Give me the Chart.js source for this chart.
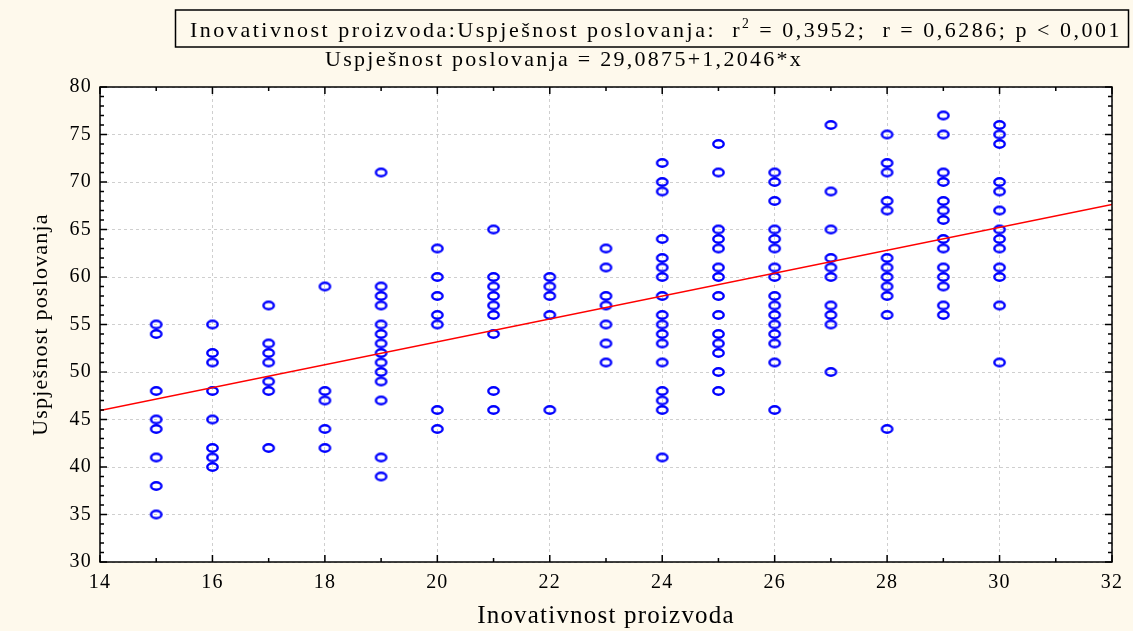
<!DOCTYPE html>
<html lang="hr">
<head>
<meta charset="UTF-8">
<title>Inovativnost proizvoda : Uspješnost poslovanja</title>
<script src="https://cdn.jsdelivr.net/npm/chart.js"></script>
<style>
    body {
        margin: 0;
        background: #fef9ec;
    }
    .wrap {
        width: 1133px;
        height: 631px;
    }
</style>
</head>
<body>
<div class="wrap"><canvas id="scatter"></canvas></div>
<script>
    // values, one list of y values per x level
    const inovativnost = [15, 16, 17, 18, 19, 20, 21, 22, 23, 24, 25, 26, 27, 28, 29, 30];
    const uspjesnost = [
        [55, 54, 48, 45, 44, 41, 38, 35],
        [55, 52, 51, 48, 45, 42, 41, 40],
        [57, 53, 52, 51, 49, 48, 42],
        [59, 48, 47, 44, 42],
        [71, 59, 58, 57, 55, 54, 53, 52, 51, 50, 49, 47, 41, 39],
        [63, 60, 58, 56, 55, 46, 44],
        [65, 60, 59, 58, 57, 56, 54, 48, 46],
        [60, 59, 58, 56, 46],
        [63, 61, 58, 57, 55, 53, 51],
        [72, 70, 69, 64, 62, 61, 60, 58, 56, 55, 54, 53, 51, 48, 47, 46, 41],
        [74, 71, 65, 64, 63, 61, 60, 58, 56, 54, 53, 52, 50, 48],
        [71, 70, 68, 65, 64, 63, 61, 60, 58, 57, 56, 55, 54, 53, 51, 46],
        [76, 69, 65, 62, 61, 60, 57, 56, 55, 50],
        [75, 72, 71, 68, 67, 62, 61, 60, 59, 58, 56, 44],
        [77, 75, 71, 70, 68, 67, 66, 64, 63, 61, 60, 59, 57, 56],
        [76, 75, 74, 70, 69, 67, 65, 64, 63, 61, 60, 57, 51]
    ];
    const xMin = 14, xMax = 32, xStep = 2;
    const yMin = 30, yMax = 80, yStep = 5;
    const intercept = 29.0875, slope = 1.2046;

    const headerText = ['Inovativnost proizvoda:Uspješnost poslovanja:  r', '2', ' = 0,3952;  r = 0,6286; p < 0,001'];
    const equationText = 'Uspješnost poslovanja = 29,0875+1,2046*x';
    const xTitle = 'Inovativnost proizvoda';
    const yTitle = 'Uspješnost poslovanja';

    const points = [];
    inovativnost.forEach((x, i) => {
        uspjesnost[i].forEach(y => points.push({ x: x, y: y }));
    });
    const fitLine = [xMin, xMax].map(x => ({ x: x, y: intercept + slope * x }));

    // hollow oval marker like the original
    const marker = document.createElement('canvas');
    marker.width = 15;
    marker.height = 12;
    const mctx = marker.getContext('2d');
    mctx.strokeStyle = '#0000ff';
    mctx.lineWidth = 2.4;
    mctx.beginPath();
    mctx.ellipse(7.5, 6, 5.2, 3.7, 0, 0, Math.PI * 2);
    mctx.stroke();

    const serif = 'Liberation Serif, Times New Roman, serif';

    // draws text spread out with letter spacing so it fills a given width
    function spreadText(ctx, parts, left, baseline, width, size) {
        ctx.save();
        ctx.letterSpacing = '0px';
        let natural = 0, chars = 0;
        parts.forEach(p => {
            ctx.font = (p.sup ? size * 0.62 : size) + 'px ' + serif;
            natural += ctx.measureText(p.text).width;
            chars += p.text.length;
        });
        const gap = Math.max(0, (width - natural) / chars);
        ctx.letterSpacing = gap + 'px';
        let x = left;
        parts.forEach(p => {
            ctx.font = (p.sup ? size * 0.62 : size) + 'px ' + serif;
            ctx.fillText(p.text, x, p.sup ? baseline - size * 0.42 : baseline);
            x += ctx.measureText(p.text).width;
        });
        ctx.restore();
    }

    const decor = {
        id: 'decor',
        beforeDraw(chart) {
            const ctx = chart.ctx, a = chart.chartArea;
            ctx.fillStyle = '#fef9ec';
            ctx.fillRect(0, 0, chart.width, chart.height);
            ctx.fillStyle = '#ffffff';
            ctx.fillRect(a.left, a.top, a.right - a.left, a.bottom - a.top);
            // the original uses slightly spaced type
            ctx.letterSpacing = '1.2px';
        },
        afterDraw(chart) {
            const ctx = chart.ctx, a = chart.chartArea;
            const sx = chart.scales.x, sy = chart.scales.y;
            ctx.save();
            ctx.strokeStyle = '#000';
            ctx.lineWidth = 1.5;
            ctx.strokeRect(a.left, a.top, a.right - a.left, a.bottom - a.top);

            // inward ticks on all four sides
            ctx.beginPath();
            for (let v = xMin; v <= xMax; v++) {
                const px = sx.getPixelForValue(v);
                const len = v % xStep === 0 ? 7 : 4;
                ctx.moveTo(px, a.bottom); ctx.lineTo(px, a.bottom - len);
                ctx.moveTo(px, a.top); ctx.lineTo(px, a.top + len);
            }
            for (let v = yMin; v <= yMax; v++) {
                const py = sy.getPixelForValue(v);
                const len = v % yStep === 0 ? 7 : 4;
                ctx.moveTo(a.left, py); ctx.lineTo(a.left + len, py);
                ctx.moveTo(a.right, py); ctx.lineTo(a.right - len, py);
            }
            ctx.stroke();

            // boxed header and regression equation
            ctx.strokeRect(175.5, 10, 953, 37);
            ctx.fillStyle = '#000';
            spreadText(ctx, [
                { text: headerText[0] },
                { text: headerText[1], sup: true },
                { text: headerText[2] }
            ], 190, 37, 932, 22);
            spreadText(ctx, [{ text: equationText }], 325, 66, 478, 22);
            ctx.restore();
        }
    };

    new Chart(document.getElementById('scatter'), {
        type: 'scatter',
        data: {
            datasets: [{
                label: 'Podaci',
                data: points,
                pointStyle: marker,
                pointRadius: 5,
                order: 2
            }, {
                label: 'Regresija',
                data: fitLine,
                showLine: true,
                borderColor: '#ff0000',
                borderWidth: 1.5,
                pointRadius: 0,
                order: 1
            }]
        },
        options: {
            responsive: true,
            maintainAspectRatio: false,
            animation: false,
            layout: { padding: { top: 87, right: 21, bottom: 0, left: 28 } },
            plugins: {
                legend: { display: false },
                tooltip: { enabled: false }
            },
            scales: {
                x: {
                    type: 'linear',
                    min: xMin,
                    max: xMax,
                    afterFit(scale) { scale.height = 69; },
                    ticks: {
                        stepSize: xStep,
                        color: '#000',
                        padding: 9,
                        font: { family: serif, size: 20 }
                    },
                    grid: {
                        color: '#cfcfcf',
                        drawTicks: false
                    },
                    border: { display: false, dash: [3, 3] },
                    title: {
                        display: true,
                        text: xTitle,
                        color: '#000',
                        padding: { top: 0, bottom: 0 },
                        font: { family: serif, size: 25 }
                    }
                },
                y: {
                    type: 'linear',
                    min: yMin,
                    max: yMax,
                    afterFit(scale) { scale.width = 72; },
                    ticks: {
                        stepSize: yStep,
                        color: '#000',
                        padding: 8,
                        font: { family: serif, size: 20 }
                    },
                    grid: {
                        color: '#cfcfcf',
                        drawTicks: false
                    },
                    border: { display: false, dash: [3, 3] },
                    title: {
                        display: true,
                        text: yTitle,
                        color: '#000',
                        padding: { top: 0, bottom: 0 },
                        font: { family: serif, size: 22 }
                    }
                }
            }
        },
        plugins: [decor]
    });
</script>
</body>
</html>
